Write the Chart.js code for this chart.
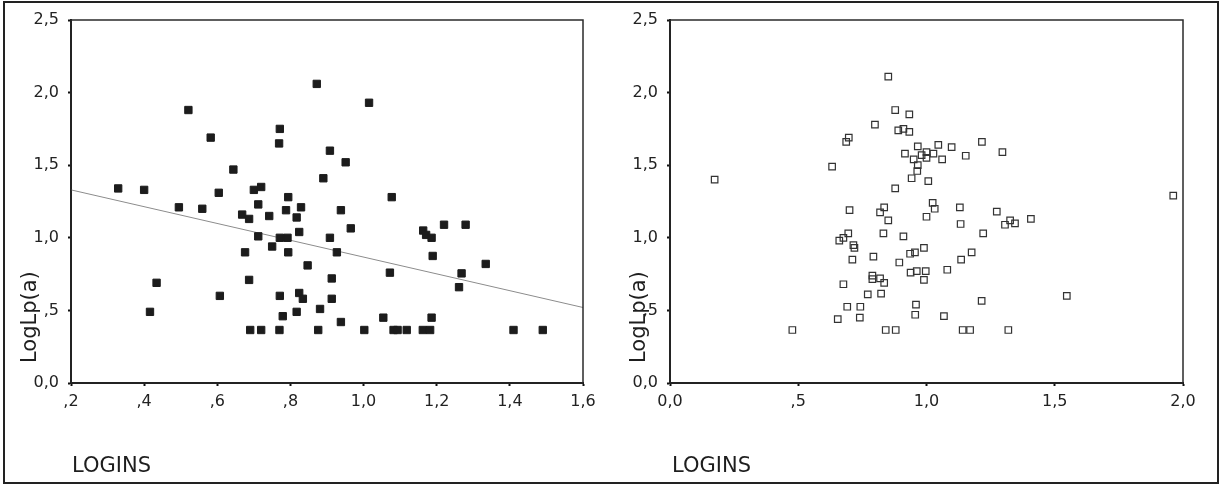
<!DOCTYPE html>
<html>
<head>
<meta charset="utf-8">
<script src="https://cdn.jsdelivr.net/npm/chart.js@4/dist/chart.umd.min.js"></script>
<style>
  body { margin: 0; background: #fff; }
  #wrap { position: relative; width: 1223px; height: 486px; }
  #frame { position: absolute; left: 3px; top: 1px; width: 1216px; height: 483px; box-sizing: border-box; border: 2px solid #222; pointer-events: none; }
  canvas { position: absolute; top: 0; }
  #left { left: 0; }
  #right { left: 612px; }
</style>
</head>
<body>
<div id="wrap">
  <canvas id="left" width="612" height="486"></canvas>
  <canvas id="right" width="611" height="486"></canvas>
  <div id="frame"></div>
</div>
<script>
// left panel: LOGINS vs LogLp(a), filled squares + fit line
const loginsA = [0.329, 0.40, 0.416, 0.434, 0.495, 0.521, 0.559, 0.582, 0.604, 0.607,
  0.644, 0.668, 0.676, 0.687, 0.687, 0.69, 0.70, 0.712, 0.712, 0.72,
  0.72, 0.742, 0.75, 0.769, 0.771, 0.771, 0.771, 0.77, 0.779, 0.788,
  0.792, 0.794, 0.794, 0.817, 0.817, 0.824, 0.824, 0.829, 0.834, 0.847,
  0.872, 0.876, 0.881, 0.89, 0.908, 0.908, 0.913, 0.913, 0.927, 0.938,
  0.938, 0.951, 0.965, 1.002, 1.015, 1.054, 1.072, 1.077, 1.082, 1.093,
  1.118, 1.162, 1.163, 1.171, 1.182, 1.186, 1.186, 1.189, 1.22, 1.261,
  1.268, 1.279, 1.334, 1.41, 1.49];
const lpaA = [1.34, 1.33, 0.49, 0.69, 1.21, 1.88, 1.20, 1.69, 1.31, 0.60,
  1.47, 1.16, 0.90, 1.13, 0.71, 0.365, 1.33, 1.23, 1.01, 1.35,
  0.365, 1.15, 0.94, 1.65, 1.75, 1.00, 0.60, 0.365, 0.46, 1.19,
  1.00, 1.28, 0.90, 1.14, 0.49, 1.04, 0.62, 1.21, 0.58, 0.81,
  2.06, 0.365, 0.51, 1.41, 1.60, 1.00, 0.72, 0.58, 0.90, 1.19,
  0.42, 1.52, 1.065, 0.365, 1.93, 0.45, 0.76, 1.28, 0.365, 0.365,
  0.365, 0.365, 1.05, 1.02, 0.365, 0.45, 1.00, 0.875, 1.09, 0.66,
  0.755, 1.09, 0.82, 0.365, 0.365];
const fitX = [0.2, 1.6];
const fitY = [1.33, 0.52];

// right panel: open squares
const loginsB = [0.174, 0.477, 0.632, 0.654, 0.66, 0.676, 0.676, 0.687, 0.691, 0.695,
  0.697, 0.70, 0.711, 0.715, 0.719, 0.74, 0.742, 0.771, 0.789, 0.789,
  0.793, 0.799, 0.819, 0.819, 0.823, 0.832, 0.835, 0.835, 0.841, 0.851,
  0.851, 0.878, 0.878, 0.88, 0.89, 0.894, 0.91, 0.91, 0.916, 0.933,
  0.933, 0.936, 0.938, 0.942, 0.95, 0.955, 0.956, 0.959, 0.962, 0.964,
  0.966, 0.966, 0.981, 0.99, 0.99, 0.997, 1.0, 1.0, 1.0, 1.007,
  1.024, 1.027, 1.032, 1.046, 1.061, 1.068, 1.081, 1.098, 1.13, 1.133,
  1.135, 1.141, 1.153, 1.17, 1.176, 1.215, 1.216, 1.221, 1.274, 1.296,
  1.306, 1.319, 1.326, 1.345, 1.407, 1.547, 1.962];
const lpaB = [1.40, 0.365, 1.49, 0.44, 0.98, 1.00, 0.68, 1.66, 0.525, 1.03,
  1.69, 1.19, 0.85, 0.95, 0.93, 0.45, 0.525, 0.61, 0.74, 0.715,
  0.87, 1.78, 1.175, 0.72, 0.615, 1.03, 1.21, 0.69, 0.365, 2.11,
  1.12, 1.88, 1.34, 0.365, 1.74, 0.83, 1.75, 1.01, 1.58, 1.85,
  1.73, 0.89, 0.76, 1.41, 1.54, 0.90, 0.47, 0.54, 0.77, 1.46,
  1.63, 1.50, 1.57, 0.93, 0.71, 0.77, 1.59, 1.55, 1.145, 1.39,
  1.24, 1.58, 1.20, 1.64, 1.54, 0.46, 0.78, 1.625, 1.21, 1.095,
  0.85, 0.365, 1.565, 0.365, 0.90, 0.565, 1.66, 1.03, 1.18, 1.59,
  1.09, 0.365, 1.12, 1.10, 1.13, 0.60, 1.29];

const xTicksA = [',2', ',4', ',6', ',8', '1,0', '1,2', '1,4', '1,6'];
const xTicksB = ['0,0', ',5', '1,0', '1,5', '2,0'];
const yTicks = ['0,0', ',5', '1,0', '1,5', '2,0', '2,5'];

const FONT = 'DejaVu Sans';

// box around plot + axis names in SPSS style
const boxPlugin = {
  id: 'box',
  afterDraw(chart, args, opts) {
    const { ctx, chartArea: a } = chart;
    ctx.save();
    ctx.strokeStyle = '#2a2a2a';
    ctx.lineWidth = 1.5;
    ctx.strokeRect(a.left, a.top, a.right - a.left, a.bottom - a.top);
    ctx.fillStyle = '#1e1e1e';
    ctx.font = '21px "' + FONT + '"';
    ctx.textBaseline = 'middle';
    ctx.textAlign = 'left';
    ctx.fillText('LOGINS', a.left + opts.xNameDx, 467);
    ctx.translate(opts.yNameX, a.bottom - 20);
    ctx.rotate(-Math.PI / 2);
    ctx.fillText('LogLp(a)', 0, 0);
    ctx.restore();
  }
};

function pts(xs, ys) {
  return xs.map((x, i) => ({ x: x, y: ys[i] }));
}

function makeScales(xmin, xmax, xstep, xLabels, yWidth, xHeight) {
  return {
    x: {
      type: 'linear', min: xmin, max: xmax,
      afterBuildTicks: s => { s.ticks = xLabels.map((_, i) => ({ value: xmin + i * xstep })); },
      afterFit: s => { s.height = xHeight; },
      border: { display: true, color: '#111', width: 2 },
      grid: { display: true, drawOnChartArea: false, tickLength: 3, color: '#111', tickWidth: 2 },
      ticks: {
        padding: 6, maxRotation: 0, autoSkip: false,
        color: '#222', font: { family: FONT, size: 16 },
        callback: (v, i) => xLabels[i]
      }
    },
    y: {
      type: 'linear', min: 0, max: 2.5,
      afterBuildTicks: s => { s.ticks = yTicks.map((_, i) => ({ value: i * 0.5 })); },
      afterFit: s => { s.width = yWidth; },
      border: { display: true, color: '#111', width: 2 },
      grid: { display: true, drawOnChartArea: false, tickLength: 3, color: '#111', tickWidth: 2 },
      ticks: {
        padding: 9, autoSkip: false,
        color: '#222', font: { family: FONT, size: 16 },
        callback: (v, i) => yTicks[i]
      }
    }
  };
}

new Chart(document.getElementById('left'), {
  type: 'scatter',
  data: {
    datasets: [{
      data: pts(loginsA, lpaA),
      pointStyle: 'rect',
      pointRadius: 5.2,
      backgroundColor: '#1c1c1c',
      borderColor: '#1c1c1c',
      borderWidth: 1
    }, {
      type: 'line',
      data: pts(fitX, fitY),
      borderColor: '#8c8c8c',
      borderWidth: 1,
      pointRadius: 0,
      fill: false
    }]
  },
  options: {
    responsive: false,
    animation: false,
    devicePixelRatio: 1,
    layout: { padding: { left: 0, right: 29, top: 20, bottom: 0 } },
    scales: makeScales(0.2, 1.6, 0.2, xTicksA, 71, 103),
    plugins: {
      legend: { display: false },
      tooltip: { enabled: false },
      box: { xNameDx: 1, yNameX: 31 }
    }
  },
  plugins: [boxPlugin]
});

new Chart(document.getElementById('right'), {
  type: 'scatter',
  data: {
    datasets: [{
      data: pts(loginsB, lpaB),
      pointStyle: 'rect',
      pointRadius: 4.6,
      backgroundColor: 'rgba(255,255,255,0)',
      borderColor: '#333',
      borderWidth: 1.2
    }]
  },
  options: {
    responsive: false,
    animation: false,
    devicePixelRatio: 1,
    layout: { padding: { left: 0, right: 40, top: 20, bottom: 0 } },
    scales: makeScales(0, 2, 0.5, xTicksB, 58, 103),
    plugins: {
      legend: { display: false },
      tooltip: { enabled: false },
      box: { xNameDx: 2, yNameX: 28 }
    }
  },
  plugins: [boxPlugin]
});
</script>
</body>
</html>
